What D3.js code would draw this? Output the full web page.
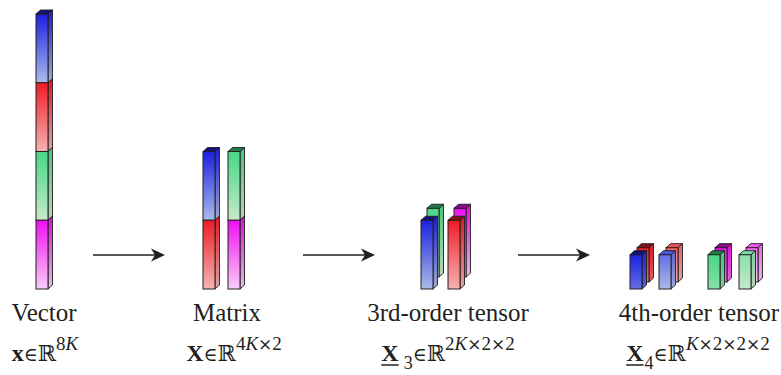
<!DOCTYPE html>
<html><head><meta charset="utf-8">
<script src="https://cdn.jsdelivr.net/npm/d3@7"></script>
<style>html,body{margin:0;padding:0;background:#fff;}svg{display:block;}</style>
</head><body>
<svg id="c" width="781" height="375"></svg>
<script>
// ---- data ----
const categories = ["Vector", "Matrix", "3rd-order tensor", "4th-order tensor"];
const colorNames = ["blue", "red", "green", "magenta"];
const colorTop = ["#1c20e0", "#ee1c25", "#48d686", "#ee10ee"];
const colorBottom = ["#aabbe8", "#f5b3b3", "#c6e9cc", "#f9cdf9"];
const colorEdge = ["#12127a", "#8a1015", "#257a4a", "#8a0a8a"];
// each column: stack of segments [colorIndex, size in K, gradientPart(0 full,1 top half,2 bottom half)]
const vectorCols = [[[0,2,0],[1,2,0],[2,2,0],[3,2,0]]];
const matrixCols = [[[0,2,0],[1,2,0]], [[2,2,0],[3,2,0]]];
const tensor3Front = [[[0,2,0]], [[1,2,0]]];
const tensor3Back = [[[2,2,0]], [[3,2,0]]];
const tensor4Front = [[[0,1,1]], [[0,1,2]], [[2,1,1]], [[2,1,2]]];
const tensor4Back = [[[1,1,1]], [[1,1,2]], [[3,1,1]], [[3,1,2]]];
const totalK = 8;
const formulaBase = ["x", "X", "X", "X"];
const formulaSub = [null, null, "3", "4"];
const formulaSup = [[["8",0],["K",1]], [["4",0],["K",1],["×",2],["2",0]],
  [["2",0],["K",1],["×",2],["2",0],["×",2],["2",0]],
  [["K",1],["×",2],["2",0],["×",2],["2",0],["×",2],["2",0]]];
const formulaUnderline = [false, false, true, true];

// ---- layout ----
const svg = d3.select("#c");
const y = d3.scaleLinear().domain([0, totalK]).range([289, 14]);
const ink = "#231f20";
const barW = 12, dX = 4.5, dY = 4;
const defs = svg.append("defs");

function gradId(ci, part){
  const id = `g_${ci}_${part}`;
  if (!document.getElementById(id)) {
    const mix = d3.interpolateRgb(colorTop[ci], colorBottom[ci]);
    const t0 = part===2 ? 0.5 : 0, t1 = part===1 ? 0.5 : 1;
    const g = defs.append("linearGradient").attr("id", id)
      .attr("x1",0).attr("y1",0).attr("x2",0).attr("y2",1);
    g.append("stop").attr("offset","0%").attr("stop-color", mix(t0));
    g.append("stop").attr("offset","100%").attr("stop-color", mix(t1));
  }
  return `url(#${id})`;
}

function drawColumn(g, x, segs, ox, oy){
  let acc = segs.reduce((s,d)=>s+d[1],0);
  const cg = g.append("g").attr("transform", `translate(${ox},${-oy})`);
  segs.forEach((s, i) => {
    const top = y(acc), bot = y(acc - s[1]);
    acc -= s[1];
    const fill = gradId(s[0], s[2]);
    const side = `M${x+barW},${top}L${x+barW+dX},${top-dY}L${x+barW+dX},${bot-dY}L${x+barW},${bot}Z`;
    cg.append("path").attr("d", side).attr("fill", fill).attr("stroke", ink).attr("stroke-width", 0.9);
    cg.append("path").attr("d", side).attr("fill", "#000").attr("fill-opacity", 0.08);
    cg.append("rect").attr("x", x).attr("y", top).attr("width", barW).attr("height", bot-top)
      .attr("fill", fill).attr("stroke", ink).attr("stroke-width", 1);
    if (i === 0) {
      const topCol = s[2]===2 ? d3.interpolateRgb(colorTop[s[0]], colorBottom[s[0]])(0.35) : colorEdge[s[0]];
      cg.append("path")
        .attr("d", `M${x},${top}L${x+dX},${top-dY}L${x+barW+dX},${top-dY}L${x+barW},${top}Z`)
        .attr("fill", topCol).attr("stroke", ink).attr("stroke-width", 0.9);
    }
  });
}

const g = svg.append("g");
drawColumn(g, 36, vectorCols[0], 0, 0);
[203, 228].forEach((x,i)=>drawColumn(g, x, matrixCols[i], 0, 0));
[421, 448].forEach((x,i)=>drawColumn(g, x, tensor3Back[i], 6, 12));
[421, 448].forEach((x,i)=>drawColumn(g, x, tensor3Front[i], 0, 0));
[630, 659, 708, 739].forEach((x,i)=>drawColumn(g, x, tensor4Back[i], 7, 7));
[630, 659, 708, 739].forEach((x,i)=>drawColumn(g, x, tensor4Front[i], 0, 0));

// arrows
[[93,165],[303,375],[518,590]].forEach(([a,b])=>{
  const yy = 255;
  g.append("line").attr("x1",a).attr("x2",b-6).attr("y1",yy).attr("y2",yy)
    .attr("stroke", ink).attr("stroke-width", 1.6);
  g.append("path").attr("d", `M${b},${yy}L${b-14},${yy-6.5}L${b-10},${yy}L${b-14},${yy+6.5}Z`)
    .attr("fill", ink);
});

// labels
const centers = [44, 227, 448, 699];
const fcenters = [45, 234, 448, 698];
const serif = "'Liberation Serif','Times New Roman',serif";
svg.selectAll("text.cat").data(categories).join("text").attr("class","cat")
  .attr("x",(d,i)=>centers[i]).attr("y",321).attr("text-anchor","middle")
  .attr("font-family", serif).attr("font-size", 25).attr("fill", ink).text(d=>d);

// formulas
const fy = 361;
formulaBase.forEach((b, i) => {
  const t = svg.append("text").attr("x", fcenters[i]).attr("y", fy).attr("text-anchor","middle")
    .attr("font-family", serif).attr("font-size", 24).attr("fill", ink);
  t.append("tspan").attr("font-weight","bold").text(b);
  let shift = 0;
  if (formulaSub[i]) {
    t.append("tspan").attr("font-size",18).attr("dy",8).attr("dx", i===2 ? 5 : 1).text(formulaSub[i]);
    shift = 8;
  }
  t.append("tspan").attr("dy", -shift).attr("font-family","'DejaVu Serif',serif").attr("font-size",19).text("∈");
  t.append("tspan").attr("font-family","'DejaVu Serif',serif").attr("font-size",22).text("ℝ");
  formulaSup[i].forEach((s, j) => {
    const ts = t.append("tspan").attr("font-size",19).text(s[0]);
    if (j===0) ts.attr("dy",-11);
    if (s[1]===1) ts.attr("font-style","italic");
    if (s[1]===2) ts.attr("font-family","'DejaVu Serif',serif").attr("font-size",17);
  });
  if (formulaUnderline[i]) {
    const e = t.node().getExtentOfChar(0);
    svg.append("line").attr("x1", e.x).attr("x2", e.x+e.width).attr("y1", fy+4).attr("y2", fy+4)
      .attr("stroke", ink).attr("stroke-width", 1.5);
  }
});
</script>
</body></html>
